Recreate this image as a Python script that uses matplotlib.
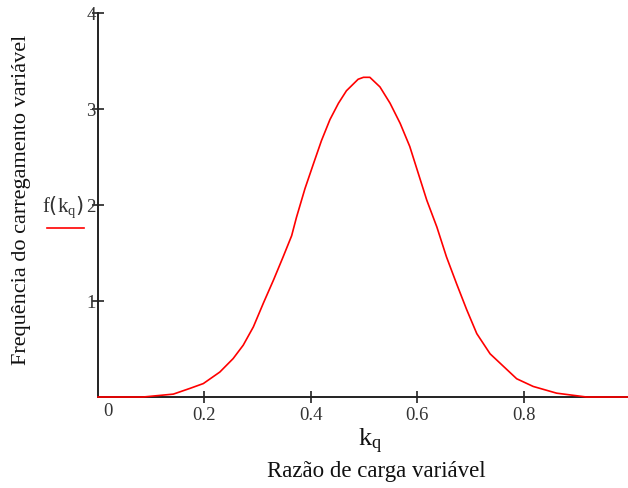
import matplotlib
matplotlib.use("Agg")
import matplotlib.pyplot as plt
from matplotlib.lines import Line2D

# values
k_q = [0.0, 0.085, 0.1416, 0.173, 0.198, 0.229, 0.254, 0.273, 0.292, 0.311,
       0.330, 0.348, 0.364, 0.373, 0.389, 0.405, 0.420, 0.436, 0.452, 0.467,
       0.489, 0.499, 0.511, 0.530, 0.549, 0.568, 0.586, 0.602, 0.618, 0.637,
       0.655, 0.674, 0.693, 0.712, 0.737, 0.762, 0.787, 0.818, 0.862, 0.918,
       1.0]
f_kq = [0.0, 0.0, 0.03, 0.09, 0.14, 0.26, 0.40, 0.54, 0.73, 0.98,
        1.22, 1.46, 1.68, 1.87, 2.17, 2.43, 2.67, 2.89, 3.06, 3.19,
        3.31, 3.33, 3.33, 3.23, 3.06, 2.85, 2.61, 2.33, 2.05, 1.77,
        1.46, 1.18, 0.91, 0.66, 0.45, 0.32, 0.19, 0.11, 0.04, 0.0,
        0.0]
x_ticks = [0.2, 0.4, 0.6, 0.8]
x_tick_labels = ["0.2", "0.4", "0.6", "0.8"]
y_ticks = [1, 2, 3, 4]
y_tick_labels = ["1", "2", "3", "4"]

plt.rcParams['font.family'] = ['Liberation Serif', 'DejaVu Serif']

W, H = 628, 488
fig = plt.figure(figsize=(W / 100, H / 100), dpi=100)
ax = fig.add_axes([98 / W, (H - 397) / H, 530 / W, 384 / H])

ax.plot(k_q, f_kq, color='#ff0000', lw=1.2, zorder=3, clip_on=False)
ax.set_xlim(0, 530 / 532)
ax.set_ylim(0, 4)

for side in ('top', 'right'):
    ax.spines[side].set_visible(False)
for side in ('left', 'bottom'):
    ax.spines[side].set_color('#222222')
    ax.spines[side].set_linewidth(1.4)
    ax.spines[side].set_zorder(2)

ax.set_xticks(x_ticks)
ax.set_xticklabels(x_tick_labels)
ax.set_yticks(y_ticks)
ax.set_yticklabels(y_tick_labels)
ax.tick_params(axis='both', direction='inout', length=9, width=1.2,
               color='#222222', labelsize=13.5, labelcolor='#333333')
ax.tick_params(axis='x', pad=3)
ax.tick_params(axis='y', pad=-3)

# the "0" label under the origin
ax.annotate("0", xy=(0, 0), xytext=(10, -15), textcoords='offset pixels',
            ha='center', va='center', fontsize=13.5, color='#333333',
            annotation_clip=False)

# axis titles
fig.text(22 / W, 1 - 200 / H, "Frequência do carregamento variável",
         rotation=90, ha='center', va='center', fontsize=16, color='#111111')
fig.text(370 / W, 1 - 441 / H, r"$\mathregular{k_q}$", ha='center',
         va='center', fontsize=19, color='#111111')
fig.text(376 / W, 1 - 471 / H, "Razão de carga variável", ha='center',
         va='center', fontsize=16.5, color='#111111')

# trace label
fig.text(63 / W, 1 - 207 / H, r"$\mathregular{f\left(k_q\right)}$",
         ha='center', va='center', fontsize=15, color='#333333')
fig.add_artist(Line2D([47 / W, 84 / W], [1 - 228 / H, 1 - 228 / H],
                      transform=fig.transFigure, color='#ff0000', lw=1.2))

fig.savefig("out.png", dpi=100)
